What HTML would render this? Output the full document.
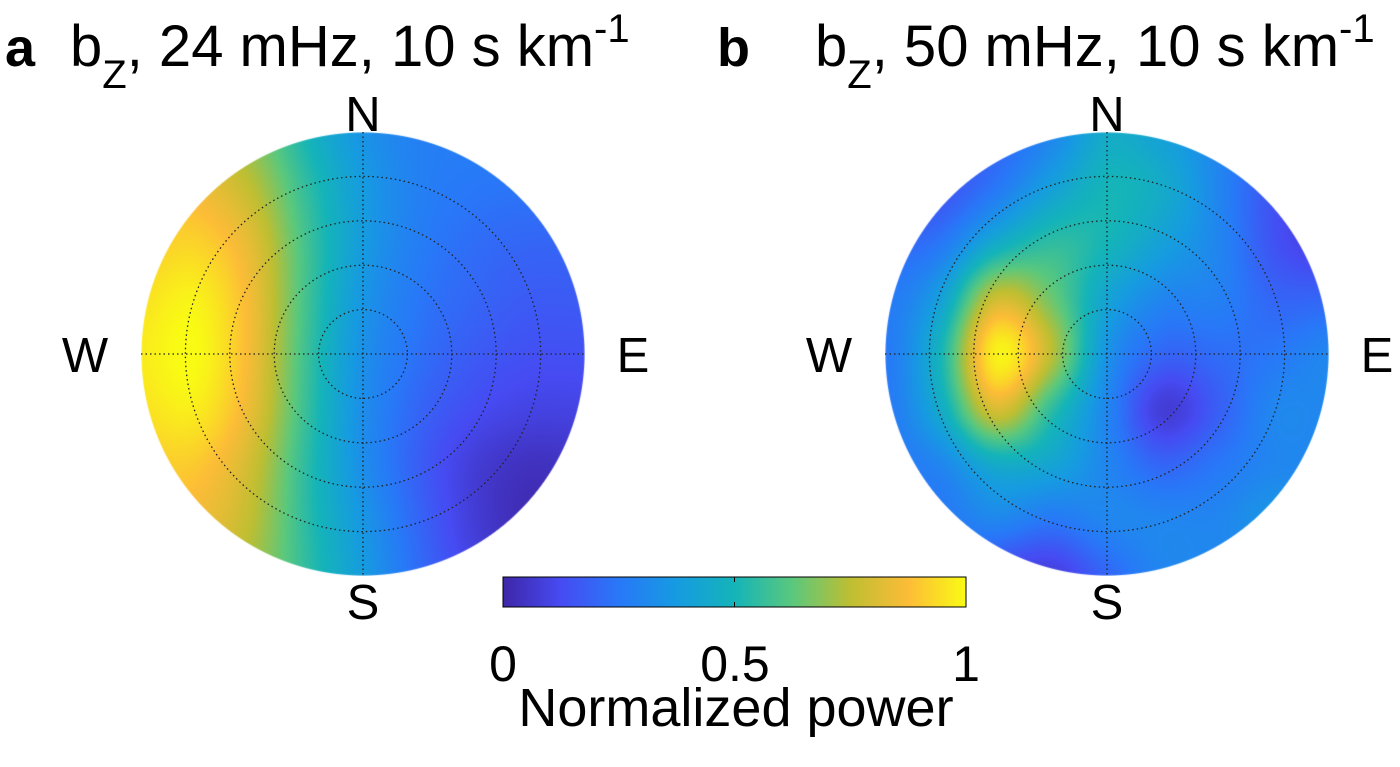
<!DOCTYPE html>
<html><head><meta charset="utf-8">
<style>
body{margin:0;width:1400px;height:767px;background:#fff;overflow:hidden;font-family:"Liberation Sans",Arial,sans-serif;}
#wrap{position:relative;width:1400px;height:767px;}
canvas{position:absolute;}
svg{position:absolute;left:0;top:0;}
</style></head>
<body>
<div id="wrap">
<canvas id="ca" width="444" height="444" style="left:141px;top:132px"></canvas>
<canvas id="cb" width="444" height="444" style="left:885px;top:132px"></canvas>
<svg id="ov" width="1400" height="767">
<defs>
<linearGradient id="parula" x1="0" x2="1" y1="0" y2="0">
<stop offset="0" stop-color="rgb(62,38,168)"/>
<stop offset="0.125" stop-color="rgb(70,75,242)"/>
<stop offset="0.25" stop-color="rgb(40,120,248)"/>
<stop offset="0.375" stop-color="rgb(22,155,225)"/>
<stop offset="0.5" stop-color="rgb(20,180,185)"/>
<stop offset="0.625" stop-color="rgb(90,200,125)"/>
<stop offset="0.75" stop-color="rgb(190,190,50)"/>
<stop offset="0.875" stop-color="rgb(252,188,55)"/>
<stop offset="1" stop-color="rgb(249,251,20)"/>
</linearGradient>
</defs>
<g font-size="58">
<text x="5" y="66" font-size="54" font-weight="bold">a</text>
<text x="70" y="66">b<tspan font-size="40" dy="22">Z</tspan><tspan dy="-22">, 24 mHz, 10 s km</tspan><tspan font-size="40" dy="-24">-1</tspan></text>
<text x="717" y="66" font-size="54" font-weight="bold">b</text>
<text x="815" y="66">b<tspan font-size="40" dy="22">Z</tspan><tspan dy="-22">, 50 mHz, 10 s km</tspan><tspan font-size="40" dy="-24">-1</tspan></text>
</g>
<g id="grids"></g>
<rect x="503" y="577" width="463" height="30" fill="url(#parula)" stroke="#000" stroke-width="1"/>
<line x1="734.5" y1="577" x2="734.5" y2="582" stroke="#000"/>
<line x1="734.5" y1="602" x2="734.5" y2="607" stroke="#000"/>
<g font-size="50" text-anchor="middle">
<text x="503" y="681">0</text>
<text x="735" y="681">0.5</text>
<text x="966" y="681">1</text>
<text x="736" y="726" font-size="54">Normalized power</text>
</g>
</svg>
</div>
<script>
const gridXs=[-1,-0.75,-0.5,-0.25,0,0.25,0.5,0.75,1];
const gridYs=[1,0.75,0.5,0.25,0,-0.25,-0.5,-0.75,-1];
const powerA=[
[0.8,0.78,0.68,0.5,0.35,0.28,0.27,0.27,0.27],
[0.85,0.85,0.75,0.55,0.38,0.28,0.25,0.24,0.24],
[0.9,0.92,0.82,0.58,0.38,0.27,0.22,0.2,0.2],
[0.95,0.98,0.85,0.58,0.36,0.25,0.2,0.17,0.17],
[0.97,1,0.85,0.57,0.34,0.23,0.17,0.14,0.14],
[0.95,0.97,0.83,0.56,0.33,0.2,0.13,0.1,0.1],
[0.9,0.9,0.78,0.54,0.33,0.18,0.08,0.04,0.05],
[0.85,0.85,0.75,0.54,0.36,0.2,0.08,0.02,0.03],
[0.8,0.8,0.72,0.55,0.38,0.22,0.1,0.05,0.05]];
const powerB=[
[0.2,0.2,0.2,0.3,0.45,0.4,0.3,0.2,0.2],
[0.12,0.15,0.25,0.4,0.5,0.45,0.3,0.15,0.08],
[0.2,0.25,0.45,0.55,0.5,0.4,0.3,0.15,0.08],
[0.25,0.4,0.78,0.65,0.42,0.3,0.28,0.2,0.2],
[0.25,0.5,0.98,0.75,0.35,0.2,0.22,0.25,0.3],
[0.25,0.45,0.8,0.55,0.3,0.08,0.18,0.3,0.3],
[0.25,0.3,0.45,0.42,0.3,0.2,0.25,0.3,0.3],
[0.25,0.25,0.3,0.25,0.3,0.3,0.3,0.35,0.3],
[0.3,0.25,0.12,0.08,0.2,0.3,0.3,0.3,0.3]];
const ringFractions=[0.2,0.4,0.6,0.8,1];
const compass=["N","E","S","W"];

const cmap=[[0,62,38,168],[0.125,70,75,242],[0.25,40,120,248],[0.375,22,155,225],[0.5,20,180,185],[0.625,90,200,125],[0.75,190,190,50],[0.875,252,188,55],[1,249,251,20]];
function color(v){v=Math.max(0,Math.min(1,v));for(let i=1;i<cmap.length;i++){if(v<=cmap[i][0]){const a=cmap[i-1],b=cmap[i],t=(v-a[0])/(b[0]-a[0]);return [a[1]+t*(b[1]-a[1]),a[2]+t*(b[2]-a[2]),a[3]+t*(b[3]-a[3])];}}return cmap[cmap.length-1].slice(1);}
function cr(p0,p1,p2,p3,t){return 0.5*((2*p1)+(-p0+p2)*t+(2*p0-5*p1+4*p2-p3)*t*t+(-p0+3*p1-3*p2+p3)*t*t*t);}
function sample(g,x,y){const n=gridXs.length-1;let fx=(x+1)/2*n,fy=(1-y)/2*n;fx=Math.max(0,Math.min(n-1e-6,fx));fy=Math.max(0,Math.min(n-1e-6,fy));const i=Math.floor(fx),j=Math.floor(fy),tx=fx-i,ty=fy-j;
const cl=k=>Math.max(0,Math.min(n,k));const rows=[];
for(let r=-1;r<=2;r++){const row=g[cl(j+r)];rows.push(cr(row[cl(i-1)],row[cl(i)],row[cl(i+1)],row[cl(i+2)],tx));}
return cr(rows[0],rows[1],rows[2],rows[3],ty);}
function draw(id,g){const c=document.getElementById(id),ctx=c.getContext('2d'),R=222,img=ctx.createImageData(444,444);
for(let py=0;py<444;py++)for(let px=0;px<444;px++){const x=(px+0.5-R)/R,y=(R-py-0.5)/R,d=x*x+y*y;if(d>1)continue;const col=color(sample(g,x,y));const k=(py*444+px)*4;img.data[k]=col[0];img.data[k+1]=col[1];img.data[k+2]=col[2];img.data[k+3]=d>0.99?Math.round(255*Math.min(1,(1-Math.sqrt(d))*222)):255;}
ctx.putImageData(img,0,0);}
draw('ca',powerA);draw('cb',powerB);

const NS='http://www.w3.org/2000/svg',G=document.getElementById('grids');
function mk(tag,attrs){const e=document.createElementNS(NS,tag);for(const k in attrs)e.setAttribute(k,attrs[k]);G.appendChild(e);return e;}
[[363,'a'],[1107,'b']].forEach(([cx,p])=>{const cy=354,R=222;
ringFractions.forEach(f=>{if(f===1)return;const e=mk('circle',{cx:cx,cy:cy,r:R*f,fill:'none',stroke:'#222','stroke-width':1.3,'stroke-dasharray':'1.5 3'});

});
const h=mk('line',{x1:cx-R,y1:cy,x2:cx+R,y2:cy,stroke:'#222','stroke-width':1.3,'stroke-dasharray':'1.5 3'});


const v=mk('line',{x1:cx,y1:cy-R,x2:cx,y2:cy+R,stroke:'#222','stroke-width':1.3,'stroke-dasharray':'1.5 3'});


const pos={N:[cx,131],S:[cx,619],W:[cx-278,372],E:[cx+270,372]};
compass.forEach(k=>{const t=mk('text',{x:pos[k][0],y:pos[k][1],'font-size':49,'text-anchor':'middle'});t.textContent=k;

});
});
</script>
</body></html>
